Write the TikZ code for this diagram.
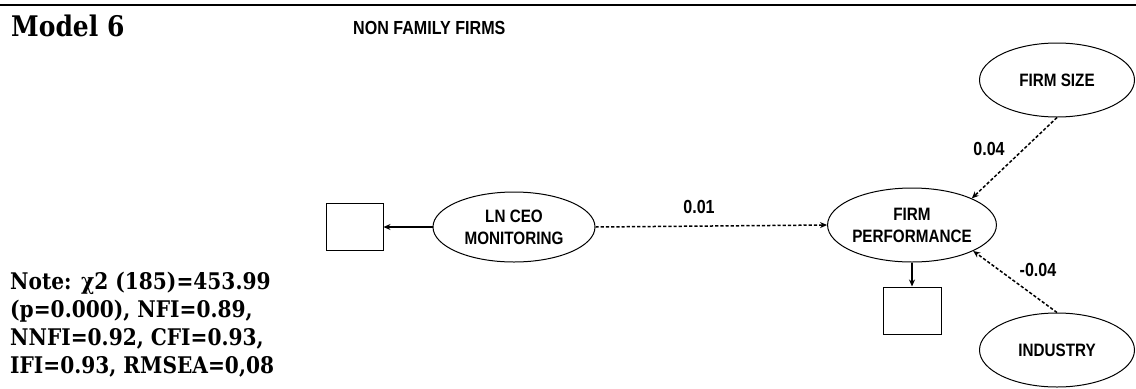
\documentclass[tikz,border=0pt]{standalone}
\usepackage{fontspec}
\setmainfont{DejaVu Serif}[FakeStretch=0.88]
\newfontfamily\nsans{Liberation Sans}[FakeStretch=0.85]
\usetikzlibrary{shapes.geometric,arrows.meta}
\begin{document}
\begin{tikzpicture}[x=1bp,y=-1bp,
  lat/.style={ellipse,draw,line width=1bp,inner sep=0,align=center,
    font=\nsans\bfseries\fontsize{18}{22}\selectfont},
  obs/.style={rectangle,draw,line width=1bp,inner sep=0},
  solidarr/.style={line width=1.6bp,-{Stealth[length=7bp,width=6bp]}},
  dasharr/.style={line width=1.5bp,dash pattern=on 3.2bp off 2bp,-{Stealth[length=7bp,width=6bp]}},
  coef/.style={font=\nsans\bfseries\fontsize{19}{22}\selectfont,inner sep=0},
]
\useasboundingbox (0,0) rectangle (1136,388);
\draw[line width=2.5bp] (0,5) -- (1136,5);
\node[anchor=base west,inner sep=0,font=\bfseries\fontsize{28.5}{32}\selectfont] (title) at (11,36) {Model 6};
\node[anchor=base west,inner sep=0,font=\nsans\bfseries\fontsize{19}{22}\selectfont] (sub) at (353,34) {NON FAMILY FIRMS};
\node[anchor=base west,inner sep=0,align=left,font=\bfseries\fontsize{23}{28}\selectfont] (note) at (10,373)
  {Note: χ2 (185)=453.99\\(p=0.000), NFI=0.89,\\NNFI=0.92, CFI=0.93,\\IFI=0.93, RMSEA=0,08};

\node[lat,minimum width=162bp,minimum height=70bp] (ceo) at (514,227) {LN CEO\\MONITORING};
\node[lat,minimum width=159bp,minimum height=74bp] (fp) at (912,225) {FIRM\\PERFORMANCE};
\node[lat,minimum width=155bp,minimum height=74bp] (fs) at (1057,80) {FIRM SIZE};
\node[lat,minimum width=155bp,minimum height=74bp] (ind) at (1057,350) {INDUSTRY};
\node[obs,minimum width=57bp,minimum height=47bp] (r1) at (354.5,226.5) {};
\node[obs,minimum width=58bp,minimum height=47bp] (r2) at (912,310.5) {};

\draw[solidarr] (ceo.west) -- (r1.east |- ceo.west);
\draw[dasharr] (ceo.east) -- (fp.west);
\draw[solidarr] (fp.south) -- (r2.north);
\draw[dasharr] (fs.south) -- (fp.24);
\draw[dasharr] (ind.north) -- (fp.-23);

\node[coef] (l1) at (699,207) {0.01};
\node[coef] (l2) at (989,149) {0.04};
\node[coef] (l3) at (1038,270) {-0.04};
\end{tikzpicture}
\end{document}
